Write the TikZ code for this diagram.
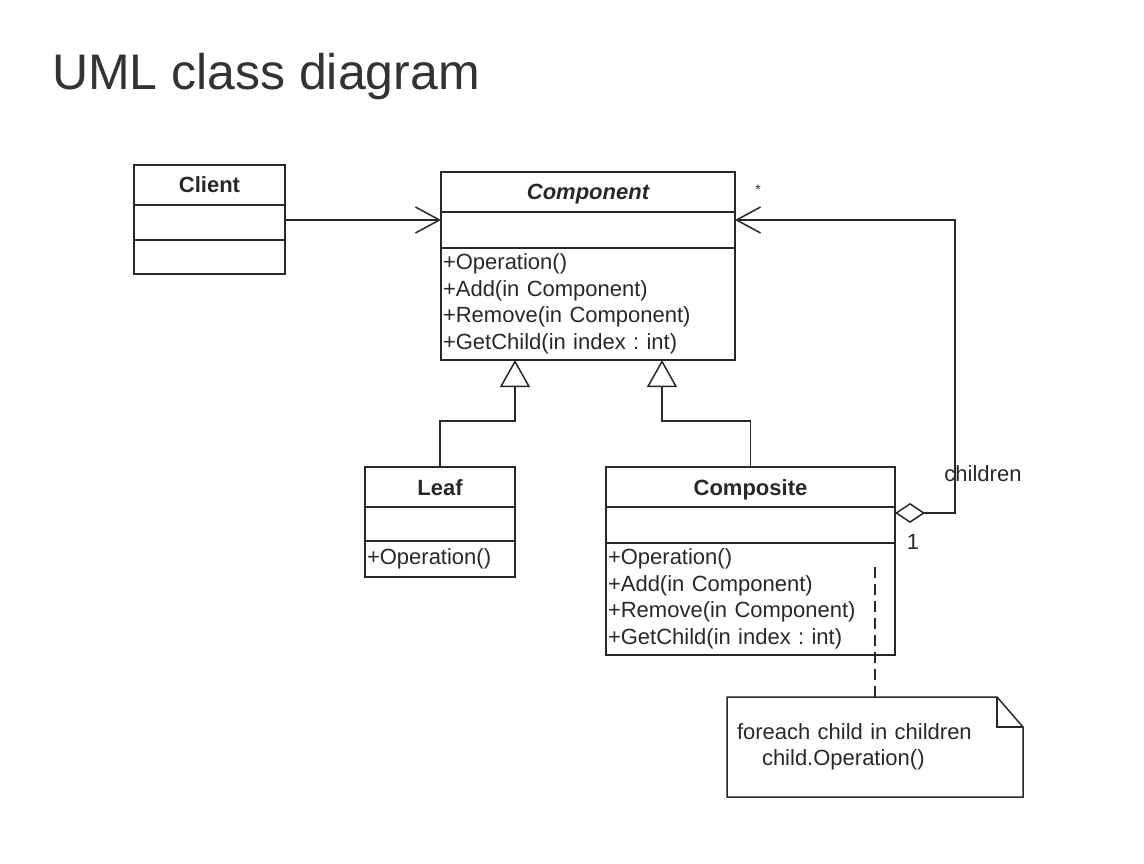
\documentclass[tikz,border=0pt]{standalone}
\usepackage{fontspec}
\setmainfont{Liberation Sans}
\usetikzlibrary{arrows.meta,positioning,calc}
\definecolor{ink}{RGB}{40,40,40}
\definecolor{titleink}{RGB}{51,51,51}
\newcommand\umlfont{\fontsize{22}{26.5}\selectfont\frenchspacing}

\begin{document}
\begin{tikzpicture}[x=1pt,y=-1pt,
  every node/.style={inner sep=0pt,outer sep=0pt,text=ink,font=\umlfont},
  line/.style={draw=ink,line width=1.5pt},
  clsname/.style={line,anchor=north west,minimum height=40pt,text height=16pt,text depth=0pt,font=\umlfont\bfseries},
  clspart/.style={line},
  clsops/.style={line,text width=#1,align=left,inner xsep=2pt},
  assoc/.style={line,-{Straight Barb[length=24pt,width=26pt]}},
  aggr/.style={line,{Diamond[open,length=30pt,width=20pt]}-{Straight Barb[length=24pt,width=26pt]}},
  gen/.style={line,-{Triangle[open,length=27pt,width=30pt]}},
  notelink/.style={line,dash pattern=on 11pt off 6pt},
  note/.style={anchor=north west,minimum height=100pt,text width=276pt,align=left,inner xsep=10pt}]
\useasboundingbox (0,0) rectangle (1144,864);
\node[anchor=base west,font=\fontsize{50}{60}\selectfont,text=titleink] (title) at (52,90) {UML class diagram};

\node[clsname,minimum width=151pt] (client) at (134,165) {Client};
\node[clspart,minimum width=151pt,minimum height=35pt,below=0pt of client] (client-attr) {};
\node[clspart,minimum width=151pt,minimum height=34pt,below=0pt of client-attr] (client-ops) {};

\node[clsname,minimum width=294pt,font=\umlfont\bfseries\itshape] (component) at (441,172) {Component};
\node[clspart,minimum width=294pt,minimum height=36pt,below=0pt of component] (component-attr) {};
\node[clsops=290pt,minimum height=112pt,below=0pt of component-attr] (component-ops)
  {+Operation()\\+Add(in Component)\\+Remove(in Component)\\+GetChild(in index : int)};

\node[clsname,minimum width=150pt] (leaf) at (365,467) {Leaf};
\node[clspart,minimum width=150pt,minimum height=34pt,below=0pt of leaf] (leaf-attr) {};
\node[clsops=146pt,minimum height=36pt,below=0pt of leaf-attr] (leaf-ops) {+Operation()};

\node[clsname,minimum width=289pt] (composite) at (606,467) {Composite};
\node[clspart,minimum width=289pt,minimum height=36pt,below=0pt of composite] (composite-attr) {};
\node[clsops=285pt,minimum height=112pt,below=0pt of composite-attr] (composite-ops)
  {+Operation()\\+Add(in Component)\\+Remove(in Component)\\+GetChild(in index : int)};

\node[note] (note) at (727,697) {foreach child in children\\\hspace*{25pt}child.Operation()};
\draw[line] (note.north west) -- ([xshift=-26pt]note.north east) -- ([yshift=-30pt]note.north east)
  -- (note.south east) -- (note.south west) -- cycle;
\draw[line] ([xshift=-26pt]note.north east) |- ([yshift=-30pt]note.north east);

\draw[assoc] ([yshift=2.5pt]client-attr.east) -- ([yshift=10pt]component-attr.west);
\draw[aggr] ([yshift=12pt]composite-attr.east) -- ++(60,0) |- ([yshift=10pt]component-attr.east);
\draw[gen] (leaf.north) -- ++(0,-46) -| ([xshift=-73pt]component-ops.south);
\draw[gen] (composite.north) -- ++(0,-46) -| ([xshift=74pt]component-ops.south);
\draw[notelink] (note.north) -- ($(note.north |- composite-ops.north)+(0,22)$);

\node[font=\fontsize{14}{14}\selectfont] (many) at (758,190) {*};
\node (one) at (913,542) {1};
\node (children) at (983,474) {children};
\end{tikzpicture}
\end{document}
